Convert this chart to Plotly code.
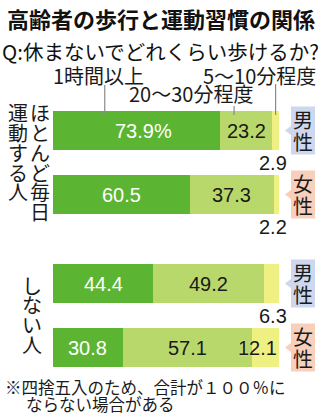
import plotly.graph_objects as go

# Survey data: share of respondents by how long they can walk without rest
groups = ["ほとんど毎日運動する人", "しない人"]
genders = ["男性", "女性"]
durations = ["1時間以上", "20〜30分程度", "5〜10分程度"]

# values[group][duration] -> [男性, 女性]
daily_1h = [73.9, 60.5]
daily_20_30 = [23.2, 37.3]
daily_5_10 = [2.9, 2.2]
none_1h = [44.4, 30.8]
none_20_30 = [49.2, 57.1]
none_5_10 = [6.3, 12.1]

values = [
    [daily_1h, daily_20_30, daily_5_10],
    [none_1h, none_20_30, none_5_10],
]

title = "高齢者の歩行と運動習慣の関係"
subtitle = "Q:休まないでどれくらい歩けるか?"
footnote = ["※四捨五入のため、合計が１００％に", "ならない場合がある"]

W, H = 322, 420
seg_colors = ["#5cb532", "#b9d86c", "#eef081"]
label_colors = ["white", "#1a1a1a", "#1a1a1a"]
box_colors = {"男性": "#cdd8ee", "女性": "#f8cfba"}
CJK = "Noto Sans CJK JP"
NUM = "Liberation Sans"
X_MAX = 100.05


def px(x):
    return x / W


def py(y):
    return 1 - y / H


def note(**kw):
    base = dict(showarrow=False, xanchor="center", yanchor="middle")
    base.update(kw)
    return base


# subplot domains (paper units) for the two respondent groups
x_dom = [px(53), px(279)]
y_doms = [[py(226.5), py(98.5)], [py(379.5), py(251.5)]]

fig = go.Figure()
annotations = []
shapes = []

for g, group_vals in enumerate(values):
    xa = "x" if g == 0 else "x2"
    ya = "y" if g == 0 else "y2"
    for k, seg in enumerate(group_vals):
        fig.add_trace(go.Bar(
            x=seg, y=genders, orientation="h",
            marker=dict(color=seg_colors[k], line=dict(width=0)),
            xaxis=xa, yaxis=ya, showlegend=False, hoverinfo="skip",
            name=durations[k],
        ))
    # value labels
    for i, gender in enumerate(genders):
        start = 0.0
        nseg = len(group_vals)
        for k in range(nseg):
            v = group_vals[k][i]
            end = min(start + v, X_MAX)
            txt = f"{v:.1f}"
            font = dict(family=NUM, size=20, color=label_colors[k])
            if g == 0 and i == 0 and k == 0:
                annotations.append(note(
                    x=start + v / 2, y=gender, xref=xa, yref=ya,
                    text=txt + "%", font=font, xshift=7))
            elif v < 10:
                annotations.append(note(
                    x=end, y=gender, xref=xa, yref=ya, text=txt,
                    font=font, xanchor="right", xshift=10, yshift=-32))
            elif k == nseg - 1:
                font["shadow"] = "0 0 2px #eef081"
                annotations.append(note(
                    x=end, y=gender, xref=xa, yref=ya, text=txt,
                    font=font, xanchor="right", xshift=0))
            else:
                annotations.append(note(
                    x=start + v / 2, y=gender, xref=xa, yref=ya, text=txt,
                    font=font))
            start = start + v

        # gender tag box with pointer
        col = box_colors[gender]
        shapes.append(dict(
            type="rect", xref="paper", yref=ya, ysizemode="pixel",
            yanchor=gender, x0=px(291), x1=px(315), y0=-24, y1=24,
            fillcolor=col, line=dict(width=0), layer="below"))
        shapes.append(dict(
            type="path", xref="paper", yref=ya, ysizemode="pixel",
            yanchor=gender,
            path=f"M {px(285)},0 L {px(291.5)},-5 L {px(291.5)},5 Z",
            fillcolor=col, line=dict(width=0)))
        for j, ch in enumerate(gender):
            annotations.append(note(
                x=px(303), y=gender, xref="paper", yref=ya, text=ch,
                yshift=11 - 22 * j,
                font=dict(family=CJK, size=20, color="#1a1a1a")))

# vertical group labels (columns read right to left)
vertical_cols = [
    ("ほとんど毎日", 40, 113),
    ("運動する人", 18, 113),
    ("しない人", 32, 285),
]
for text, cx, top in vertical_cols:
    for j, ch in enumerate(text):
        annotations.append(note(
            x=px(cx), y=py(top + 19.7 * j), xref="paper", yref="paper",
            text=ch, font=dict(family=CJK, size=20, color="#1a1a1a")))

# duration headers with leader lines
header_pos = [(98, 75), (191, 94), (259, 75)]
leader_frac = [0.31, 0.27, 0.5]
leader_top = [85, 106, 84]
for k, name in enumerate(durations):
    hx, hy = header_pos[k]
    annotations.append(note(
        x=px(hx), y=py(hy), xref="paper", yref="paper", text=name,
        font=dict(family=CJK, size=20, color="#1a1a1a")))
    start = sum(values[0][j][0] for j in range(k))
    lx = start + values[0][k][0] * leader_frac[k]
    shapes.append(dict(
        type="line", xref="x", yref="paper", x0=lx, x1=lx,
        y0=py(leader_top[k]), y1=py(115),
        line=dict(color="#8a8a8a", width=1.2)))

# title, subtitle, footnote
annotations.append(note(
    x=px(161), y=py(18), xref="paper", yref="paper", text=title,
    font=dict(family=CJK, size=22, color="#111", weight=700)))
annotations.append(note(
    x=px(160), y=py(51), xref="paper", yref="paper", text=subtitle,
    font=dict(family=CJK, size=20.5, color="#111")))
annotations.append(note(
    x=px(3), y=py(387), xref="paper", yref="paper", text=footnote[0],
    xanchor="left", font=dict(family=CJK, size=16.5, color="#1a1a1a")))
annotations.append(note(
    x=px(24), y=py(404), xref="paper", yref="paper", text=footnote[1],
    xanchor="left", font=dict(family=CJK, size=16.5, color="#1a1a1a")))

axis_x = dict(domain=x_dom, range=[0, X_MAX], visible=False, fixedrange=True)
axis_y = dict(categoryorder="array", categoryarray=genders,
              range=[1.5, -0.5], autorange=False, visible=False,
              fixedrange=True)
fig.update_layout(
    width=W, height=H, margin=dict(l=0, r=0, t=0, b=0),
    paper_bgcolor="white", plot_bgcolor="white",
    barmode="stack", bargap=0.39,
    xaxis=dict(axis_x, anchor="y"),
    xaxis2=dict(axis_x, anchor="y2"),
    yaxis=dict(axis_y, domain=y_doms[0], anchor="x"),
    yaxis2=dict(axis_y, domain=y_doms[1], anchor="x2"),
    annotations=annotations, shapes=shapes,
)

fig.write_html("out.html")
